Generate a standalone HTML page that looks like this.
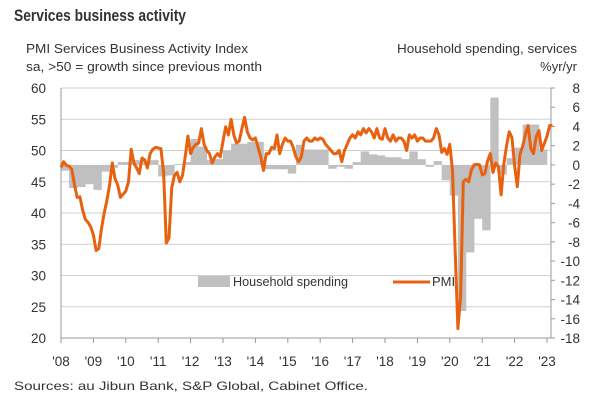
<!DOCTYPE html>
<html><head><meta charset="utf-8"><style>
body{margin:0;background:#fff;width:600px;height:406px;overflow:hidden;font-family:"Liberation Sans",sans-serif}
svg text{font-family:"Liberation Sans",sans-serif;fill:#333}
</style></head><body>
<svg width="600" height="406">
<text x="14" y="21" font-size="17" font-weight="bold" fill="#111" textLength="172" lengthAdjust="spacingAndGlyphs">Services business activity</text>
<text x="26" y="53" font-size="13" textLength="222" lengthAdjust="spacingAndGlyphs">PMI Services Business Activity Index</text>
<text x="26" y="71" font-size="13" textLength="236" lengthAdjust="spacingAndGlyphs">sa, &gt;50 = growth since previous month</text>
<text x="577" y="53" font-size="13" text-anchor="end" textLength="180" lengthAdjust="spacingAndGlyphs">Household spending, services</text>
<text x="577" y="71" font-size="13" text-anchor="end">%yr/yr</text>
<g id="grid"></g><g id="bars"></g><g id="axes"></g><g id="line"></g>
<g>
<rect x="198" y="276" width="32" height="11" fill="#c0c0c0"/>
<text x="233" y="286" font-size="13" textLength="115" lengthAdjust="spacingAndGlyphs">Household spending</text>
<line x1="393" y1="282" x2="430" y2="282" stroke="#e8610f" stroke-width="3"/>
<text x="432" y="286" font-size="13">PMI</text>
</g>
<text x="14" y="390" font-size="12" textLength="354" lengthAdjust="spacingAndGlyphs">Sources: au Jibun Bank, S&amp;P Global, Cabinet Office.</text>
</svg>
<script>
const yearLabels=["'08","'09","'10","'11","'12","'13","'14","'15","'16","'17","'18","'19","'20","'21","'22","'23"];
const leftTicks=[20,25,30,35,40,45,50,55,60];
const rightTicks=[8,6,4,2,0,-2,-4,-6,-8,-10,-12,-14,-16,-18];
const pmi=[
47.3,48.2,47.6,47.5,47.0,44.5,42.5,42.6,40.5,39.0,38.5,37.8,
36.5,34.0,34.3,37.5,40.0,42.0,44.5,48.0,45.5,44.5,42.5,43.0,
43.5,45.0,50.2,48.0,47.2,46.3,48.8,48.5,47.2,49.5,50.2,50.5,
50.4,50.3,46.5,35.2,36.0,44.0,46.0,46.5,45.0,46.0,49.0,52.3,
49.5,50.5,51.0,51.2,53.5,51.0,50.0,49.5,48.0,49.0,49.5,49.0,
51.5,53.8,52.5,55.0,52.5,51.2,51.5,53.5,55.3,53.0,52.0,51.7,
52.0,50.5,49.0,46.8,49.5,49.5,50.5,50.3,52.5,49.5,51.0,52.0,
51.5,51.5,50.5,49.0,48.2,49.0,51.5,52.0,51.5,51.5,52.0,51.7,
52.0,51.8,51.0,50.5,50.0,49.5,49.5,50.0,48.2,50.0,51.0,52.0,
52.5,52.0,53.0,52.5,53.5,52.8,53.5,53.0,52.0,53.5,52.0,51.8,
53.5,52.0,51.5,52.5,51.5,52.0,52.0,51.5,50.0,52.5,52.0,52.5,
51.5,52.0,52.0,51.5,51.5,51.5,52.0,53.5,52.5,49.7,50.3,49.4,
51.0,46.8,33.8,21.5,26.5,45.0,45.4,45.0,46.9,47.7,47.8,47.7,
46.1,46.3,48.3,49.5,46.5,48.0,47.4,42.9,47.8,50.7,53.0,52.1,
47.6,44.2,49.4,50.7,52.6,54.0,50.3,49.5,52.2,53.2,50.0,51.1,
52.3,54.0,54.0];
const spending=[
-0.6,-2.4,-2.3,-2.0, -2.6,-0.7,-0.3,0.3, 0.3,0.5,0.4,0.5, -1.2,-1.1,0.1,0.3,
2.7,1.9,0.5,0.6, 1.5,2.2,2.2,2.4, 2.4,-0.45,-0.45,-0.45, -0.9,2.1,1.6,1.6,
1.6,-0.4,-0.2,-0.4, 0.3,1.4,1.1,1.0, 0.8,0.8,0.6,1.4, 0.6,-0.2,0.4,-1.6,
-3.2,-15.2,-9.1,-5.6, -6.8,7.0,-1.0,0.7, 1.8,4.2,4.2,1.6];
const NS='http://www.w3.org/2000/svg';
const X0=61,PX=2.7,Y60=88,Y20=338;
function xm(t){return X0+t*PX;}
function yl(v){return Y20-(v-20)*(Y20-Y60)/40;}
function yr(v){return Y60+(8-v)*(Y20-Y60)/26;}
function mk(tag,attrs,parent){const e=document.createElementNS(NS,tag);for(const k in attrs)e.setAttribute(k,attrs[k]);document.getElementById(parent).appendChild(e);return e;}
leftTicks.forEach(v=>{
 const g=mk('line',{x1:X0,x2:551,y1:yl(v),y2:yl(v),stroke:'#d0d0d0','stroke-width':1},'grid');
 
 
 const t=mk('text',{x:46,y:yl(v)+5,'font-size':13.5,'text-anchor':'end'},'axes');t.textContent=v;
 
 
});
rightTicks.forEach(v=>{
 const t=mk('text',{x:580,y:yr(v)+5,'font-size':13.5,'text-anchor':'end'},'axes');t.textContent=v;
 
 
 mk('line',{x1:551,x2:555,y1:yr(v),y2:yr(v),stroke:'#999'},'axes');
});
mk('line',{x1:X0,x2:X0,y1:Y60,y2:Y20,stroke:'#999'},'axes');
mk('line',{x1:551,x2:551,y1:Y60,y2:Y20,stroke:'#999'},'axes');
mk('line',{x1:X0,x2:551,y1:Y20,y2:Y20,stroke:'#999'},'axes');
yearLabels.forEach((l,i)=>{
 const x=xm(i*12);
 mk('line',{x1:x,x2:x,y1:Y20,y2:Y20+5,stroke:'#999'},'axes');
 const t=mk('text',{x:x,y:366,'font-size':13.5,'text-anchor':'middle'},'axes');t.textContent=l;
 
 
});
spending.forEach((v,i)=>{
 const x1=xm(i*3),x2=xm(i*3+3),y0=yr(0),y=yr(v);
 const r=mk('rect',{x:x1,width:x2-x1+0.3,y:Math.min(y0,y),height:Math.abs(y-y0),fill:'#c0c0c0'},'bars');
 
 
});
const pts=pmi.map((v,i)=>xm(i).toFixed(1)+','+yl(v).toFixed(1)).join(' ');
const pl=mk('polyline',{points:pts,fill:'none',stroke:'#e8610f','stroke-width':3,'stroke-linejoin':'round'},'line');


</script>
</body></html>
